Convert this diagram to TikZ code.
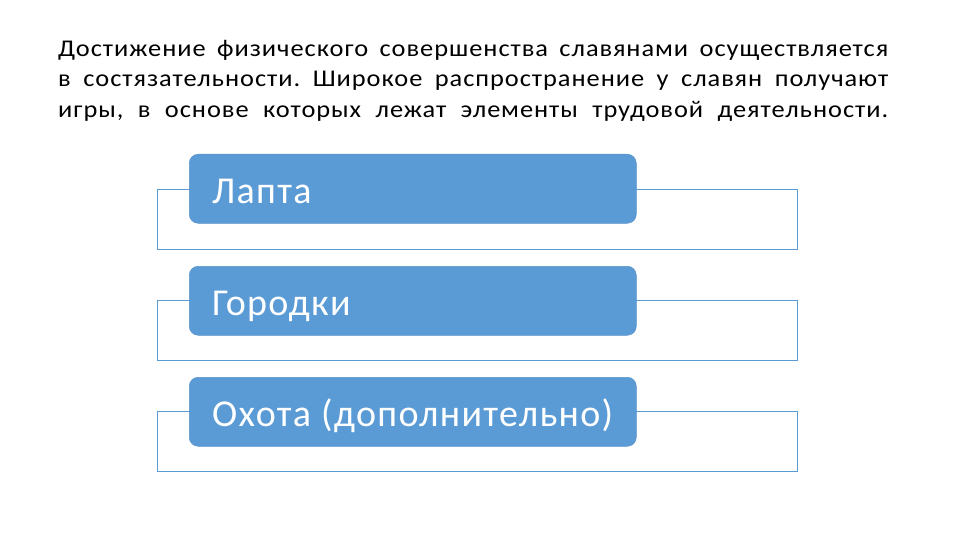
\documentclass[tikz,border=0pt]{standalone}
\usepackage{fontspec}
\setmainfont{Carlito}
\newfontfamily\titlefont{Carlito}[FakeStretch=1.1,LetterSpace=4]
\newfontfamily\boxfont{Carlito}[LetterSpace=3.5]
\definecolor{boxblue}{HTML}{5B9BD5}
\tikzset{
  outlinebox/.style={draw=boxblue, line width=0.9pt, fill=white, inner sep=0pt, minimum width=640pt, minimum height=60pt, anchor=north west},
  bluebox/.style={draw=boxblue!95!black, line width=0.5pt, fill=boxblue, rounded corners=9pt, inner sep=0pt, minimum width=447pt, minimum height=69pt, anchor=north west},
  boxlabel/.style={anchor=base west, text=white, inner sep=0pt, font=\boxfont\fontsize{38}{44}\selectfont},
  titletext/.style={anchor=base west, inner sep=0pt, font=\titlefont\fontsize{24}{30.7}\selectfont}
}
\begin{document}
\begin{tikzpicture}[x=1pt,y=-1pt]
\useasboundingbox (0,0) rectangle (960,540);
\node[titletext] (title) at (58,56.3) {\parbox[t]{830pt}{\frenchspacing\parindent=0pt\parfillskip=0pt Достижение физического совершенства славянами осуществляется\linebreak в состязательности. Широкое распространение у славян получают\linebreak игры, в основе которых лежат элементы трудовой деятельности.}};
\node[outlinebox] (o1) at (157,189) {};
\node[outlinebox] (o2) at (157,300) {};
\node[outlinebox] (o3) at (157,411) {};
\node[bluebox] (b1) at (189,154) {};
\node[bluebox] (b2) at (189,266) {};
\node[bluebox] (b3) at (189,377) {};
\node[boxlabel] (t1) at (212,203) {Лапта};
\node[boxlabel] (t2) at (212,315) {Городки};
\node[boxlabel] (t3) at (212,426) {Охота (дополнительно)};
\end{tikzpicture}
\end{document}
